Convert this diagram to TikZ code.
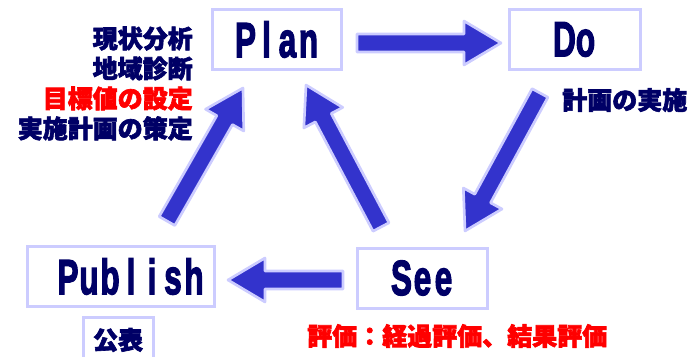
\documentclass[tikz,border=0pt]{standalone}
\usepackage{fontspec}
\usetikzlibrary{calc}
\newfontfamily\cjk{Noto Sans CJK JP}[BoldFeatures={FakeBold=2.5}]
\newfontfamily\stagefont{Liberation Sans}[BoldFeatures={FakeBold=3}]
\definecolor{navy}{HTML}{000066}
\definecolor{arrowblue}{HTML}{3333CC}
\definecolor{rimblue}{HTML}{CCCCFF}
\tikzset{
  stagebox/.style={draw=rimblue, line width=2.25pt, text=navy, inner sep=0pt,
    minimum height=45pt, font=\stagefont\bfseries\fontsize{37}{37}\selectfont},
  notetext/.style={inner sep=0pt, text=navy,
    font=\cjk\bfseries\fontsize{18.75}{22.5}\selectfont},
  blockarrow/.style={fill=arrowblue, draw=rimblue, line width=2pt, line join=round}
}
% letters of a stage name, one fixed cell each
\newcommand{\stagetext}[1]{\foreach \ch in {#1}{\makebox[15.75pt]{\scalebox{0.64}[1]{\ch}}}}
% fat arrow from #1 (tail) to #2 (tip)
\newcommand{\bigarrow}[2]{%
  \coordinate (hb) at ($(#2)!27.75pt!(#1)$);
  \draw[blockarrow] ($(#1)!6.75pt!90:(#2)$) -- ($(hb)!6.75pt!90:(#2)$)
    -- ($(hb)!16.5pt!90:(#2)$) -- (#2) -- ($(hb)!16.5pt!-90:(#2)$)
    -- ($(hb)!6.75pt!-90:(#2)$) -- ($(#1)!6.75pt!-90:(#2)$) -- cycle;
}
\begin{document}
\begin{tikzpicture}[x=0.75pt, y=-0.75pt]
  \clip (0,0) rectangle (694,357);

  % Boxes
  \node[stagebox, minimum width=96.75pt] (plan) at (277,39.5) {\stagetext{P,l,a,n}};
  \node[stagebox, minimum width=98.25pt] (do) at (575,39.5) {\stagetext{D,o}};
  \node[stagebox, minimum width=97.5pt] (see) at (422.5,278) {\stagetext{S,e,e}};
  \node[stagebox, minimum width=140.25pt] (publish) at (121,276.5) {\hspace*{15pt}\stagetext{P,u,b,l,i,s,h}};
  \node[draw=rimblue, line width=2.25pt, notetext, minimum width=52.5pt, minimum height=34.5pt] (pubnote) at (118,340) {公表};

  % Notes
  \node[notetext, anchor=east, align=right] (plannote) at (193,83.5)
    {現状分析\\地域診断\\\textcolor{red}{目標値の設定}\\実施計画の策定};
  \node[notetext, anchor=west] (donote) at (562,100) {計画の実施};
  \node[notetext, anchor=west, text=red] (seenote) at (307,336) {評価：経過評価、結果評価};

  % Arrow ends
  \coordinate (pd-s) at (357,43);   \coordinate (pd-e) at (501,43);
  \coordinate (ds-s) at (540,93);   \coordinate (ds-e) at (465,231);
  \coordinate (sp-s) at (381,227);  \coordinate (sp-e) at (306,85);
  \coordinate (sb-s) at (343,280);  \coordinate (sb-e) at (228,280);
  \coordinate (bp-s) at (167,221);  \coordinate (bp-e) at (243,88);

  \bigarrow{pd-s}{pd-e}
  \bigarrow{ds-s}{ds-e}
  \bigarrow{sp-s}{sp-e}
  \bigarrow{sb-s}{sb-e}
  \bigarrow{bp-s}{bp-e}
\end{tikzpicture}
\end{document}
